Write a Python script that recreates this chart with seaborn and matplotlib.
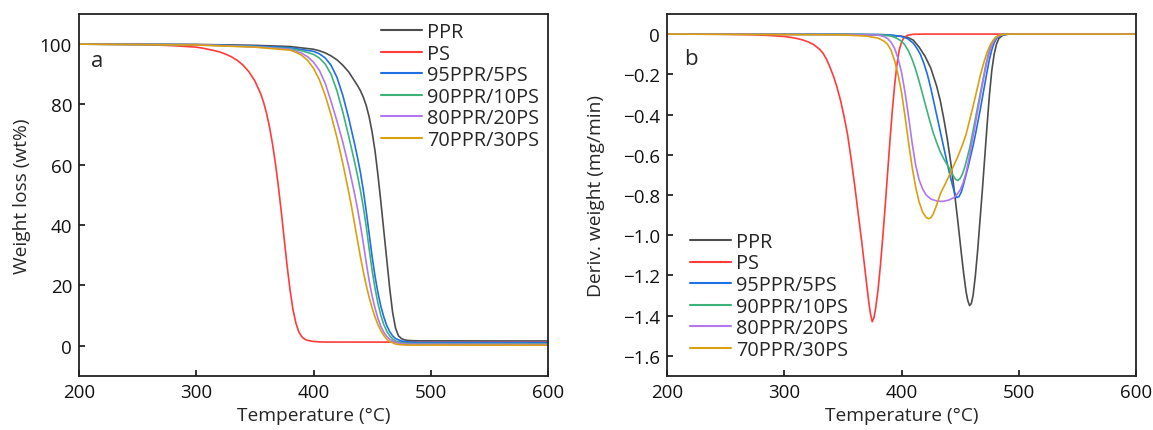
import numpy as np
import pandas as pd
import matplotlib
matplotlib.use("Agg")
import matplotlib.pyplot as plt
import seaborn as sns

series_names = ["PPR", "PS", "95PPR/5PS", "90PPR/10PS", "80PPR/20PS", "70PPR/30PS"]
colors = ["#4d4d4d", "#ff3b3b", "#1f6fe5", "#3db37a", "#b277ee", "#d9a010"]

# ---------------- TGA (panel a) ----------------
tga_T_ppr = [200, 300, 350, 380, 400, 405, 410, 415, 420, 425, 430, 435, 437.5, 440, 442.5, 445, 447.5, 450, 452.5, 455,
             457.5, 460, 462.5, 465, 467.5, 470, 472.5, 475, 477.5, 480, 485, 490, 600]
tga_w_ppr = [100, 99.9, 99.6, 99.2, 98.3, 97.8, 97.1, 96.1, 94.8, 93.0, 90.8, 87.8, 86.3, 84.6, 82.4, 79.6, 75.8, 70.8, 64.5, 56.5,
             47.5, 38.0, 28.5, 19.0, 11.0, 5.8, 3.3, 2.4, 2.0, 1.8, 1.7, 1.65, 1.6]

tga_T_ps = [200, 250, 280, 300, 305, 310, 315, 320, 325, 330, 335, 340, 345, 350, 355, 357.5, 360, 362.5, 365, 367.5, 370,
            372.5, 375, 377.5, 380, 382.5, 385, 387.5, 390, 392.5, 395, 400, 405, 410, 600]
tga_w_ps = [100, 99.9, 99.5, 99.0, 98.7, 98.3, 97.9, 97.4, 96.7, 95.8, 94.6, 93.0, 90.8, 87.8, 83.5, 80.6, 77.0, 72.5, 67.0, 60.5, 53.0,
            44.5, 35.5, 26.5, 18.5, 12.0, 7.5, 4.6, 3.0, 2.2, 1.8, 1.45, 1.3, 1.25, 1.2]

tga_T_95 = [200, 300, 350, 380, 400, 405, 410, 415, 420, 425, 430, 435, 437.5, 440, 442.5, 445, 447.5, 450, 452.5, 455,
            457.5, 460, 462.5, 465, 467.5, 470, 475, 480, 490, 600]
tga_w_95 = [100, 99.8, 99.4, 98.8, 97.6, 96.8, 95.4, 93.0, 89.0, 83.0, 75.5, 67.0, 62.5, 57.5, 51.5, 44.5, 37.0, 29.5, 23.0, 17.5,
            13.0, 9.5, 6.7, 4.7, 3.3, 2.4, 1.6, 1.3, 1.15, 1.1]

tga_T_90 = [200, 300, 350, 380, 390, 400, 405, 410, 415, 420, 425, 430, 435, 437.5, 440, 442.5, 445, 447.5, 450, 452.5, 455,
            457.5, 460, 462.5, 465, 467.5, 470, 475, 480, 490, 600]
tga_w_90 = [100, 99.8, 99.2, 98.5, 97.8, 96.6, 95.4, 93.4, 90.0, 84.5, 77.5, 69.5, 61.0, 56.5, 51.5, 46.0, 39.5, 32.0, 25.0, 19.0, 14.0,
            10.0, 7.0, 4.8, 3.3, 2.3, 1.6, 1.0, 0.8, 0.75, 0.7]

tga_T_80 = [200, 300, 350, 380, 390, 395, 400, 405, 410, 415, 420, 425, 430, 435, 437.5, 440, 442.5, 445, 447.5, 450, 452.5,
            455, 457.5, 460, 462.5, 465, 470, 475, 480, 600]
tga_w_80 = [100, 99.8, 99.1, 98.3, 97.0, 95.8, 94.0, 91.3, 87.0, 81.0, 74.5, 67.5, 59.5, 50.5, 45.5, 40.0, 34.0, 27.5, 21.5, 16.5, 12.5,
            9.0, 6.4, 4.5, 3.1, 2.2, 1.1, 0.7, 0.55, 0.45]

tga_T_70 = [200, 300, 350, 380, 385, 390, 395, 400, 405, 410, 415, 420, 425, 430, 432.5, 435, 437.5, 440, 442.5, 445, 447.5,
            450, 452.5, 455, 457.5, 460, 462.5, 465, 470, 475, 480, 600]
tga_w_70 = [100, 99.7, 99.0, 98.0, 97.3, 96.3, 94.6, 92.0, 88.2, 83.0, 76.5, 69.0, 60.5, 51.0, 46.0, 40.5, 35.0, 29.5, 24.5, 20.0, 16.0,
            12.5, 9.5, 7.0, 5.0, 3.4, 2.2, 1.4, 0.6, 0.35, 0.25, 0.2]

# ---------------- DTG (panel b) ----------------
dtg_T_ppr = [200, 350, 380, 390, 400, 405, 410, 415, 420, 425, 430, 433, 436, 439, 442, 445, 448, 451, 453, 455, 456.5, 458,
             459.5, 461, 463, 465, 467, 469, 471, 473, 475, 477, 479, 481, 483, 486, 490, 495, 600]
dtg_v_ppr = [0, -0.002, -0.004, -0.007, -0.011, -0.016, -0.03, -0.065, -0.11, -0.17, -0.26, -0.33, -0.42, -0.52, -0.64, -0.78, -0.93,
             -1.09, -1.19, -1.28, -1.325, -1.35, -1.34, -1.30, -1.20, -1.07, -0.92, -0.77, -0.61, -0.45, -0.30, -0.18, -0.10,
             -0.05, -0.022, -0.007, -0.001, 0, 0]

dtg_T_ps = [200, 250, 270, 280, 290, 300, 305, 310, 315, 320, 325, 330, 333, 336, 339, 342, 345, 348, 351, 354, 357, 360, 363,
            366, 368, 370, 372, 373.5, 375, 376.5, 378, 380, 382, 384, 386, 388, 390, 392, 394, 396, 398, 400, 402, 405,
            410, 420, 600]
dtg_v_ps = [0, -0.001, -0.003, -0.005, -0.008, -0.012, -0.016, -0.021, -0.028, -0.038, -0.052, -0.075, -0.095, -0.125, -0.165,
            -0.21, -0.265, -0.33, -0.41, -0.50, -0.62, -0.75, -0.89, -1.03, -1.13, -1.23, -1.33, -1.39, -1.43, -1.41, -1.36,
            -1.27, -1.15, -1.01, -0.86, -0.70, -0.54, -0.39, -0.26, -0.155, -0.08, -0.04, -0.018, -0.006, -0.001, 0, 0]

dtg_T_95 = [200, 350, 380, 390, 400, 405, 410, 413, 416, 419, 422, 425, 428, 431, 434, 437, 440, 442.5, 445, 447, 449, 451,
            453, 455, 457, 459, 461, 463, 465, 467, 469, 471, 473, 475, 477, 479, 481, 484, 488, 492, 600]
dtg_v_95 = [0, -0.001, -0.002, -0.004, -0.012, -0.022, -0.045, -0.07, -0.10, -0.145, -0.20, -0.27, -0.35, -0.43, -0.51, -0.59,
            -0.67, -0.73, -0.785, -0.813, -0.808, -0.785, -0.745, -0.70, -0.655, -0.605, -0.555, -0.50, -0.44, -0.38, -0.315,
            -0.25, -0.185, -0.125, -0.078, -0.044, -0.022, -0.008, -0.002, 0, 0]

dtg_T_90 = [200, 350, 380, 390, 395, 400, 403, 406, 409, 412, 415, 418, 421, 424, 427, 430, 433, 436, 439, 442, 444, 446, 448,
            450, 452, 454, 456, 458, 460, 462, 464, 466, 468, 470, 472, 474, 476, 478, 480, 483, 487, 491, 600]
dtg_v_90 = [0, -0.001, -0.003, -0.008, -0.018, -0.035, -0.055, -0.085, -0.125, -0.175, -0.235, -0.30, -0.365, -0.43, -0.49,
            -0.54, -0.585, -0.62, -0.65, -0.68, -0.703, -0.722, -0.728, -0.718, -0.695, -0.66, -0.615, -0.57, -0.51, -0.45,
            -0.39, -0.33, -0.27, -0.21, -0.15, -0.10, -0.062, -0.035, -0.018, -0.006, -0.001, 0, 0]

dtg_T_80 = [200, 350, 380, 385, 388, 391, 394, 397, 400, 403, 406, 409, 412, 415, 418, 421, 425, 430, 435, 440, 444, 447, 450,
            452.5, 455, 457, 459, 461, 463, 465, 467, 469, 471, 473, 475, 477, 479, 481, 484, 488, 600]
dtg_v_80 = [0, -0.002, -0.005, -0.012, -0.022, -0.04, -0.07, -0.12, -0.19, -0.29, -0.41, -0.54, -0.65, -0.725, -0.77, -0.80,
            -0.82, -0.83, -0.832, -0.826, -0.815, -0.80, -0.775, -0.74, -0.69, -0.635, -0.575, -0.51, -0.445, -0.38, -0.315,
            -0.25, -0.19, -0.135, -0.09, -0.056, -0.032, -0.016, -0.005, 0, 0]

dtg_T_70 = [200, 350, 370, 380, 385, 388, 391, 394, 397, 400, 403, 406, 409, 412, 415, 418, 421, 423, 425, 427, 430, 433, 436,
            440, 444, 448, 452, 455, 458, 461, 464, 467, 470, 473, 476, 479, 482, 486, 490, 600]
dtg_v_70 = [0, -0.004, -0.01, -0.02, -0.035, -0.05, -0.08, -0.13, -0.20, -0.29, -0.41, -0.54, -0.66, -0.76, -0.835, -0.885,
            -0.912, -0.918, -0.913, -0.895, -0.85, -0.795, -0.76, -0.712, -0.66, -0.61, -0.55, -0.50, -0.43, -0.36, -0.285,
            -0.21, -0.145, -0.09, -0.05, -0.024, -0.009, -0.002, 0, 0]

x_ticks = [200, 300, 400, 500, 600]
ya_ticks = [0, 20, 40, 60, 80, 100]
yb_ticks = [0, -0.2, -0.4, -0.6, -0.8, -1.0, -1.2, -1.4, -1.6]
yb_labels = ["0", "\u22120.2", "\u22120.4", "\u22120.6", "\u22120.8", "\u22121.0", "\u22121.2", "\u22121.4", "\u22121.6"]

tga_T = [tga_T_ppr, tga_T_ps, tga_T_95, tga_T_90, tga_T_80, tga_T_70]
tga_w = [tga_w_ppr, tga_w_ps, tga_w_95, tga_w_90, tga_w_80, tga_w_70]
dtg_T = [dtg_T_ppr, dtg_T_ps, dtg_T_95, dtg_T_90, dtg_T_80, dtg_T_70]
dtg_v = [dtg_v_ppr, dtg_v_ps, dtg_v_95, dtg_v_90, dtg_v_80, dtg_v_70]

df_a = pd.concat([pd.DataFrame({"T": t, "v": v, "s": n}) for t, v, n in zip(tga_T, tga_w, series_names)], ignore_index=True)
df_b = pd.concat([pd.DataFrame({"T": t, "v": v, "s": n}) for t, v, n in zip(dtg_T, dtg_v, series_names)], ignore_index=True)

sns.set_theme(style="ticks")
plt.rcParams["font.family"] = ["Open Sans", "DejaVu Sans"]
plt.rcParams["axes.linewidth"] = 1.3

fig = plt.figure(figsize=(11.53, 4.31), dpi=100)
ax_a = fig.add_axes([0.0685, 0.1253, 0.4068, 0.840])
ax_b = fig.add_axes([0.5785, 0.1253, 0.4068, 0.840])
palette = dict(zip(series_names, colors))

for ax, df in ((ax_a, df_a), (ax_b, df_b)):
    sns.lineplot(data=df, x="T", y="v", hue="s", hue_order=series_names, palette=palette,
                 sort=False, estimator=None, linewidth=1.2, ax=ax)
    ax.set_xlim(200, 600)
    ax.set_xticks(x_ticks)
    ax.tick_params(direction="in", length=4, width=1.2, labelsize=13.5, colors="#111111", pad=5)
    ax.set_xlabel("Temperature (\u00b0C)", fontsize=13.8, labelpad=4)
    for sp in ax.spines.values():
        sp.set_color("#222222")

ax_a.set_ylim(-10, 110)
ax_a.set_yticks(ya_ticks)
ax_a.set_ylabel("Weight loss (wt%)", fontsize=13.8, labelpad=6)
ax_b.set_ylim(-1.7, 0.1)
ax_b.set_yticks(yb_ticks)
ax_b.set_yticklabels(yb_labels)
ax_b.set_ylabel("Deriv. weight (mg/min)", fontsize=13.8, labelpad=13)

ax_a.text(0.038, 0.871, "a", transform=ax_a.transAxes, fontsize=16, ha="center", va="center")
ax_b.text(0.052, 0.876, "b", transform=ax_b.transAxes, fontsize=16, ha="center", va="center")

leg_kw = dict(loc="upper left", frameon=False, fontsize=14.3, handlelength=2.05, handletextpad=0.28,
              labelspacing=0.08, borderaxespad=0, borderpad=0)
leg_a = ax_a.legend(bbox_to_anchor=(0.644, 0.978), **leg_kw)
leg_b = ax_b.legend(bbox_to_anchor=(0.049, 0.398), **leg_kw)
for leg in (leg_a, leg_b):
    for line in leg.get_lines():
        line.set_linewidth(1.5)

fig.savefig("out.png", dpi=100)
